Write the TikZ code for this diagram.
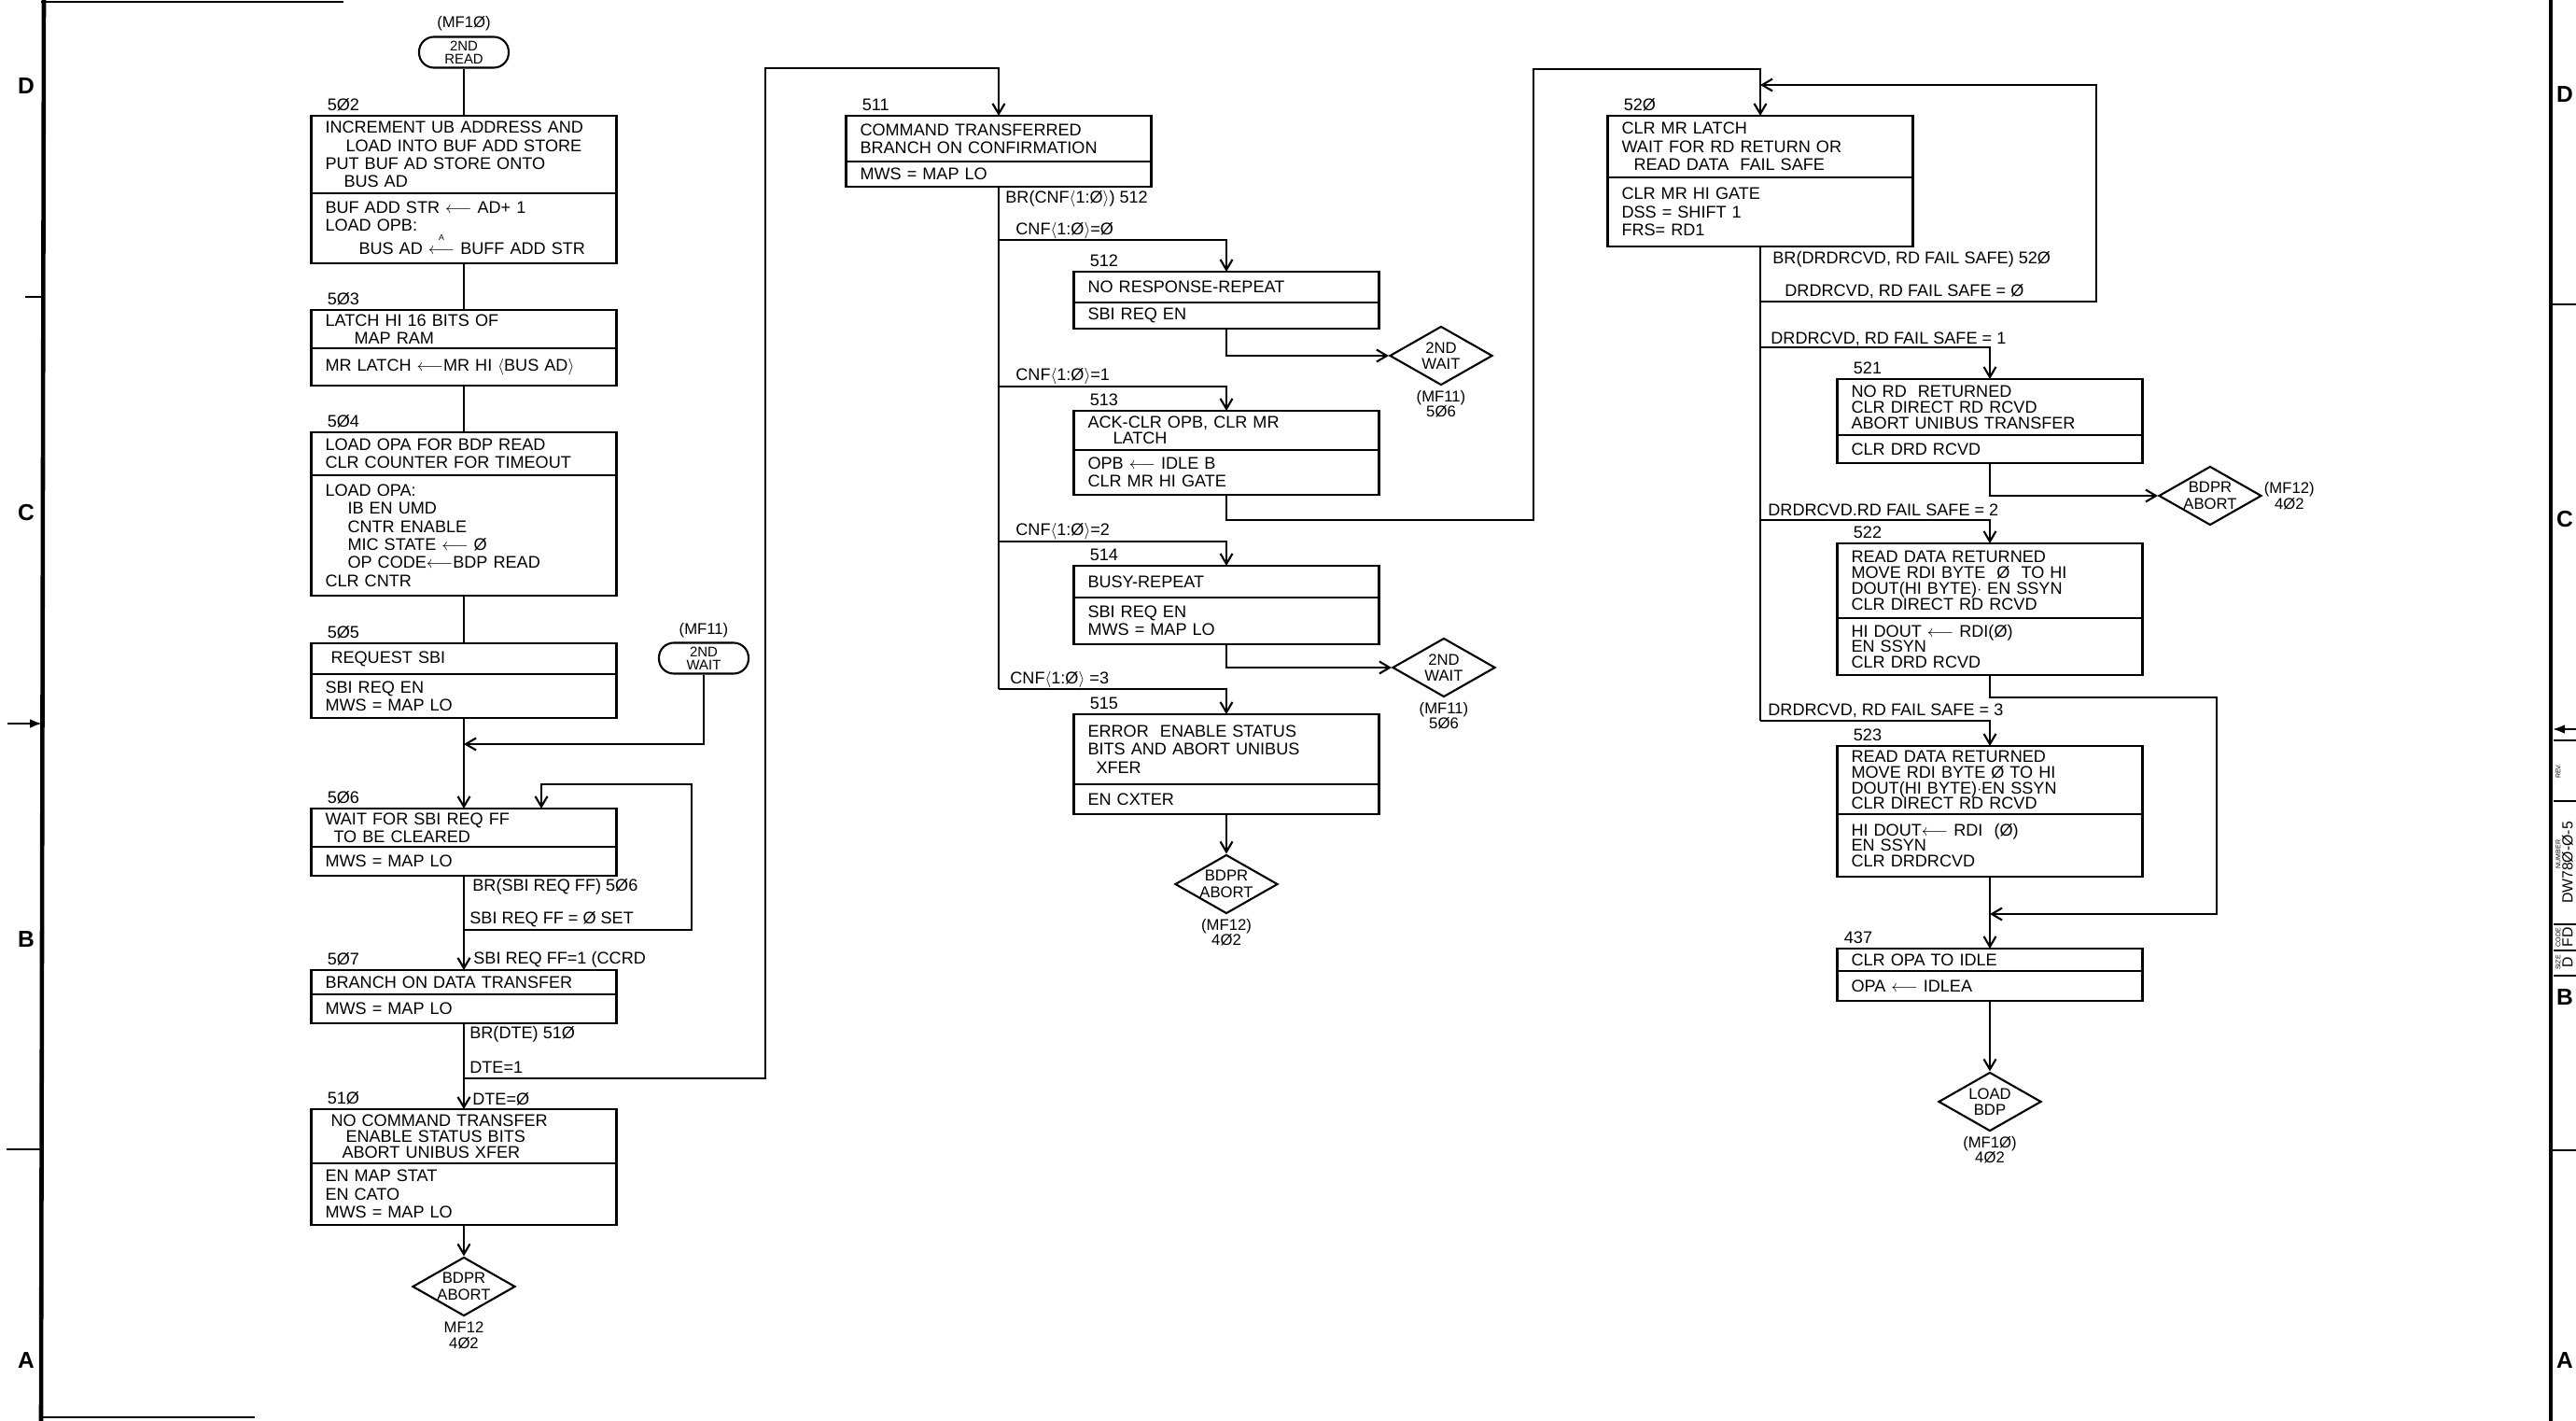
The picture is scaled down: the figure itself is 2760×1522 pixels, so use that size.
\documentclass[tikz,border=0pt]{standalone}
\usepackage{fontspec}
\setmainfont{Liberation Sans}
\usetikzlibrary{positioning,shapes.geometric,arrows.meta}
\newcommand\chartfont{\fontsize{10.3}{11}\selectfont}
\newcommand\tightfont{\fontsize{10.3}{9.6}\selectfont}
\newcommand\cnf{CNF$\langle$1:Ø$\rangle$}
\newcommand\ld{$\longleftarrow$}

\begin{document}
\begin{tikzpicture}[x=0.2mm, y=-0.2mm,
	wire/.style={line width=1.2pt},
	flow/.style={wire, -{Straight Barb[length=2.2mm, width=2.6mm]}},
	topbox/.style={draw, line width=1.3pt, outer sep=0pt, anchor=north, text width=59.4mm, inner xsep=3mm, inner ysep=0.5pt, align=left, font=\chartfont},
	botbox/.style={topbox, below=0pt of #1},
	num/.style={anchor=south west, inner sep=0pt, xshift=3.4mm, yshift=0.9mm, font=\chartfont},
	lab/.style={anchor=west, inner sep=0pt, font=\chartfont},
	term/.style={draw, line width=1.2pt, rounded corners=3.2mm, minimum width=19.2mm, minimum height=6.6mm, inner sep=0pt, align=center, font=\fontsize{8.5}{8}\selectfont},
	dia/.style={draw, diamond, line width=1.2pt, aspect=1.75, minimum width=22mm, minimum height=12.6mm, inner sep=0pt, align=center, font=\fontsize{9.5}{10}\selectfont},
	ref/.style={align=center, inner sep=0pt, font=\fontsize{9.5}{9.5}\selectfont},
	rim/.style={line width=2.6pt},
	zone/.style={inner sep=0pt, font=\bfseries\fontsize{14}{14}\selectfont},
	tiny/.style={rotate=90, inner sep=0pt, font=\fontsize{4}{4}\selectfont},
	big/.style={rotate=90, inner sep=0pt, font=\fontsize{9}{9}\selectfont}]
	\useasboundingbox (0,0) rectangle (2760,1522);

	\draw [rim] (47,0) -- (44,1522);
	\draw [wire] (44,2) -- (368,2);
	\draw [wire] (44,1518) -- (273,1518);
	\draw [wire] (27,318) -- (45,318);
	\draw [wire] (7,1231) -- (44,1231);
	\draw [wire, -{Latex[length=2.6mm]}] (8,775) -- (45,775);
	\node [zone] (zD) at (28,92) {D};
	\node [zone] (zC) at (28,549) {C};
	\node [zone] (zB) at (28,1006) {B};
	\node [zone] (zA) at (28,1457) {A};

	\draw [rim] (2733,0) -- (2733,1522);
	\draw [wire] (2733,326) -- (2760,326);
	\draw [wire] (2733,1232) -- (2760,1232);
	\draw [wire, -{Latex[length=2.6mm]}] (2760,781) -- (2735,781);
	\draw [wire] (2736,793) -- (2760,793);
	\draw [wire] (2736,858) -- (2760,858);
	\draw [wire] (2736,990) -- (2760,990);
	\draw [wire] (2736,1018) -- (2760,1018);
	\draw [wire] (2736,1045) -- (2760,1045);
	\node [tiny] (tRev) at (2741,826) {REV.};
	\node [tiny] (tNum) at (2741,915) {NUMBER};
	\node [tiny] (tCode) at (2741,1004) {CODE};
	\node [tiny] (tSize) at (2741,1031) {SIZE};
	\node [big] (tDw) at (2751,924) {DW78Ø-Ø-5};
	\node [big] (tFd) at (2751,1004) {FD};
	\node [big] (tD) at (2751,1031) {D};
	\node [zone] (yD) at (2748,101) {D};
	\node [zone] (yC) at (2748,556) {C};
	\node [zone] (yB) at (2748,1068) {B};
	\node [zone] (yA) at (2748,1457) {A};

	\node [term] (read2) at (497,56) {2ND\\READ};
	\node [ref, above=1mm of read2] (read2r) {(MF1Ø)};
	\node [topbox, minimum height=16.6mm] (t502) at (497,124) {INCREMENT UB ADDRESS AND\\\hspace*{4.4mm}LOAD INTO BUF ADD STORE\\PUT BUF AD STORE ONTO\\\hspace*{4mm}BUS AD};
	\node [botbox=t502, minimum height=15mm] (b502) {BUF ADD STR \ld\ AD+ 1\\LOAD OPB:\\\hspace*{7.2mm}BUS AD $\stackrel{\raisebox{3pt}{\mbox{\tiny A}}}{\longleftarrow}$ BUFF ADD STR};
	\node [num] (n502) at (t502.north west) {5Ø2};
	\node [topbox, minimum height=8.2mm] (t503) at (497,332) {LATCH HI 16 BITS OF\\\hspace*{6.2mm}MAP RAM};
	\node [botbox=t503, minimum height=8mm] (b503) {MR LATCH \ld MR HI $\langle$BUS AD$\rangle$};
	\node [num] (n503) at (t503.north west) {5Ø3};
	\node [topbox, minimum height=9.2mm] (t504) at (497,463) {LOAD OPA FOR BDP READ\\CLR COUNTER FOR TIMEOUT};
	\node [botbox=t504, minimum height=25.8mm] (b504) {LOAD OPA:\\\hspace*{4.8mm}IB EN UMD\\\hspace*{4.8mm}CNTR ENABLE\\\hspace*{4.8mm}MIC STATE \ld\ Ø\\\hspace*{4.8mm}OP CODE\ld BDP READ\\CLR CNTR};
	\node [num] (n504) at (t504.north west) {5Ø4};
	\node [topbox, minimum height=6.6mm] (t505) at (497,689) {\hspace*{1.2mm}REQUEST SBI};
	\node [botbox=t505, minimum height=9.4mm] (b505) {SBI REQ EN\\MWS = MAP LO};
	\node [num] (n505) at (t505.north west) {5Ø5};
	\node [term] (wait2) at (754,705) {2ND\\WAIT};
	\node [ref, above=0.8mm of wait2] (wait2r) {(MF11)};
	\node [topbox, minimum height=8.2mm] (t506) at (497,866) {WAIT FOR SBI REQ FF\\\hspace*{1.8mm}TO BE CLEARED};
	\node [botbox=t506, minimum height=6.2mm] (b506) {MWS = MAP LO};
	\node [num] (n506) at (t506.north west) {5Ø6};
	\node [topbox, minimum height=5.2mm] (t507) at (497,1039) {BRANCH ON DATA TRANSFER};
	\node [botbox=t507, minimum height=6.2mm] (b507) {MWS = MAP LO};
	\node [num] (n507) at (t507.north west) {5Ø7};
	\node [topbox, minimum height=11.6mm, font=\tightfont] (t510) at (497,1188) {\hspace*{1.2mm}NO COMMAND TRANSFER\\\hspace*{4.4mm}ENABLE STATUS BITS\\\hspace*{3.6mm}ABORT UNIBUS XFER};
	\node [botbox=t510, minimum height=13.2mm] (b510) {EN MAP STAT\\EN CATO\\MWS = MAP LO};
	\node [num] (n510) at (t510.north west) {51Ø};
	\node [dia] (abortA) at (497,1378) {BDPR\\ABORT};
	\node [ref, below=1mm of abortA] (abortAr) {MF12\\4Ø2};

	\coordinate (j506) at (497,797);
	\coordinate (s506) at (497,996);
	\coordinate (r506) at (741,840);
	\coordinate (e506) at (580,840);
	\coordinate (s507) at (497,1155);
	\coordinate (r507) at (820,73);
	\draw [wire] (read2.south) -- (t502.north);
	\draw [wire] (b502.south) -- (t503.north);
	\draw [wire] (b503.south) -- (t504.north);
	\draw [wire] (b504.south) -- (t505.north);
	\draw [flow] (b505.south) -- (t506.north);
	\draw [flow] (wait2.south) |- (j506);
	\draw [flow] (b506.south) -- (t507.north);
	\draw [flow] (s506) -| (r506) -- (e506) -- (e506 |- t506.north);
	\draw [flow] (b507.south) -- (t510.north);
	\draw [flow] (b510.south) -- (abortA.north);
	\node [lab] (l506a) at (506,950) {BR(SBI REQ FF) 5Ø6};
	\node [lab] (l506b) at (503,985) {SBI REQ FF = Ø SET};
	\node [lab] (l506c) at (507,1028) {SBI REQ FF=1 (CCRD};
	\node [lab] (l507a) at (503,1108) {BR(DTE) 51Ø};
	\node [lab] (l507b) at (503,1143) {DTE=1};
	\node [lab] (l507c) at (506,1177) {DTE=Ø};

	\node [topbox, minimum height=9.8mm] (t511) at (1070,124) {COMMAND TRANSFERRED\\BRANCH ON CONFIRMATION};
	\node [botbox=t511, minimum height=5.4mm] (b511) {MWS = MAP LO};
	\node [num] (n511) at (t511.north west) {511};
	\node [topbox, minimum height=6.6mm] (t512) at (1314,291) {NO RESPONSE-REPEAT};
	\node [botbox=t512, minimum height=5.6mm] (b512) {SBI REQ EN};
	\node [num] (n512) at (t512.north west) {512};
	\node [topbox, minimum height=8.4mm, font=\tightfont] (t513) at (1314,440) {ACK-CLR OPB, CLR MR\\\hspace*{5.4mm}LATCH};
	\node [botbox=t513, minimum height=9.6mm] (b513) {OPB \ld\ IDLE B\\CLR MR HI GATE};
	\node [num] (n513) at (t513.north west) {513};
	\node [topbox, minimum height=6.8mm] (t514) at (1314,606) {BUSY-REPEAT};
	\node [botbox=t514, minimum height=10mm] (b514) {SBI REQ EN\\MWS = MAP LO};
	\node [num] (n514) at (t514.north west) {514};
	\node [topbox, minimum height=15mm] (t515) at (1314,765) {ERROR \ ENABLE STATUS\\BITS AND ABORT UNIBUS\\\hspace*{1.8mm}XFER};
	\node [botbox=t515, minimum height=6.4mm] (b515) {EN CXTER};
	\node [num] (n515) at (t515.north west) {515};
	\node [dia] (waitB) at (1544,381) {2ND\\WAIT};
	\node [ref, below=0.8mm of waitB] (waitBr) {(MF11)\\5Ø6};
	\node [dia] (waitC) at (1547,715) {2ND\\WAIT};
	\node [ref, below=0.8mm of waitC] (waitCr) {(MF11)\\5Ø6};
	\node [dia] (abortB) at (1314,947) {BDPR\\ABORT};
	\node [ref, below=0.8mm of abortB] (abortBr) {(MF12)\\4Ø2};

	\coordinate (c0) at (1070,257);
	\coordinate (c1) at (1070,414);
	\coordinate (c2) at (1070,580);
	\coordinate (c3) at (1070,738);
	\coordinate (q513) at (1643,557);
	\coordinate (r513) at (1643,74);
	\draw [flow] (s507) -| (r507) -| (t511.north);
	\draw [wire] (b511.south) -- (c3);
	\draw [flow] (c0) -| (t512.north);
	\draw [flow] (b512.south) |- (waitB.west);
	\draw [flow] (c1) -| (t513.north);
	\draw [flow] (c2) -| (t514.north);
	\draw [flow] (b514.south) |- (waitC.west);
	\draw [flow] (c3) -| (t515.north);
	\draw [flow] (b515.south) -- (abortB.north);
	\node [lab] (l511a) at (1077,213) {BR(\cnf) 512};
	\node [lab] (l511b) at (1088,247) {\cnf=Ø};
	\node [lab] (l511c) at (1088,403) {\cnf=1};
	\node [lab] (l511d) at (1088,569) {\cnf=2};
	\node [lab] (l511e) at (1082,728) {\cnf\ =3};

	\node [topbox, minimum height=13.2mm] (t520) at (1886,124) {CLR MR LATCH\\WAIT FOR RD RETURN OR\\\hspace*{2.6mm}READ DATA \ FAIL SAFE};
	\node [botbox=t520, minimum height=14.8mm] (b520) {CLR MR HI GATE\\DSS = SHIFT 1\\FRS= RD1};
	\node [num] (n520) at (t520.north west) {52Ø};
	\node [topbox, minimum height=12mm, font=\tightfont] (t521) at (2132,406) {NO RD \ RETURNED\\CLR DIRECT RD RCVD\\ABORT UNIBUS TRANSFER};
	\node [botbox=t521, minimum height=6mm] (b521) {CLR DRD RCVD};
	\node [num] (n521) at (t521.north west) {521};
	\node [topbox, minimum height=16mm, font=\tightfont] (t522) at (2132,582) {READ DATA RETURNED\\MOVE RDI BYTE \ Ø \ TO HI\\DOUT(HI BYTE)$\cdot$ EN SSYN\\CLR DIRECT RD RCVD};
	\node [botbox=t522, minimum height=12.2mm, font=\tightfont] (b522) {HI DOUT \ld\ RDI(Ø)\\EN SSYN\\CLR DRD RCVD};
	\node [num] (n522) at (t522.north west) {522};
	\node [topbox, minimum height=14.6mm, font=\tightfont] (t523) at (2132,799) {READ DATA RETURNED\\MOVE RDI BYTE Ø TO HI\\DOUT(HI BYTE)$\cdot$EN SSYN\\CLR DIRECT RD RCVD};
	\node [botbox=t523, minimum height=13.4mm, font=\tightfont] (b523) {HI DOUT\ld\ RDI \ (Ø)\\EN SSYN\\CLR DRDRCVD};
	\node [num] (n523) at (t523.north west) {523};
	\node [topbox, minimum height=4.8mm] (t437) at (2132,1016) {CLR OPA TO IDLE};
	\node [botbox=t437, minimum height=6.4mm] (b437) {OPA \ld\ IDLEA};
	\node [num, xshift=-2mm] (n437) at (t437.north west) {437};
	\node [dia] (abortC) at (2368,531) {BDPR\\ABORT};
	\node [ref, right=0.3mm of abortC] (abortCr) {(MF12)\\4Ø2};
	\node [dia] (loadbdp) at (2132,1180) {LOAD\\BDP};
	\node [ref, below=0.8mm of loadbdp] (loadbdpr) {(MF1Ø)\\4Ø2};

	\coordinate (d0) at (1886,323);
	\coordinate (d1) at (1886,372);
	\coordinate (d2) at (1886,557);
	\coordinate (d3) at (1886,772);
	\coordinate (r520) at (2246,91);
	\coordinate (e520) at (1886,91);
	\coordinate (q522) at (2375,747);
	\coordinate (e522) at (2132,979);
	\draw [flow] (b513.south) |- (q513) -- (r513) -| (t520.north);
	\draw [wire] (b520.south) -- (d3);
	\draw [flow] (d0) -| (r520) -- (e520);
	\draw [flow] (d1) -| (t521.north);
	\draw [flow] (b521.south) |- (abortC.west);
	\draw [flow] (d2) -| (t522.north);
	\draw [flow] (b522.south) |- (q522) |- (e522);
	\draw [flow] (d3) -| (t523.north);
	\draw [flow] (b523.south) -- (t437.north);
	\draw [flow] (b437.south) -- (loadbdp.north);
	\node [lab] (l520a) at (1899,278) {BR(DRDRCVD, RD FAIL SAFE) 52Ø};
	\node [lab] (l520b) at (1912,312) {DRDRCVD, RD FAIL SAFE = Ø};
	\node [lab] (l520c) at (1897,363) {DRDRCVD, RD FAIL SAFE = 1};
	\node [lab] (l520d) at (1894,546) {DRDRCVD.RD FAIL SAFE = 2};
	\node [lab] (l520e) at (1894,761) {DRDRCVD, RD FAIL SAFE = 3};
\end{tikzpicture}
\end{document}
